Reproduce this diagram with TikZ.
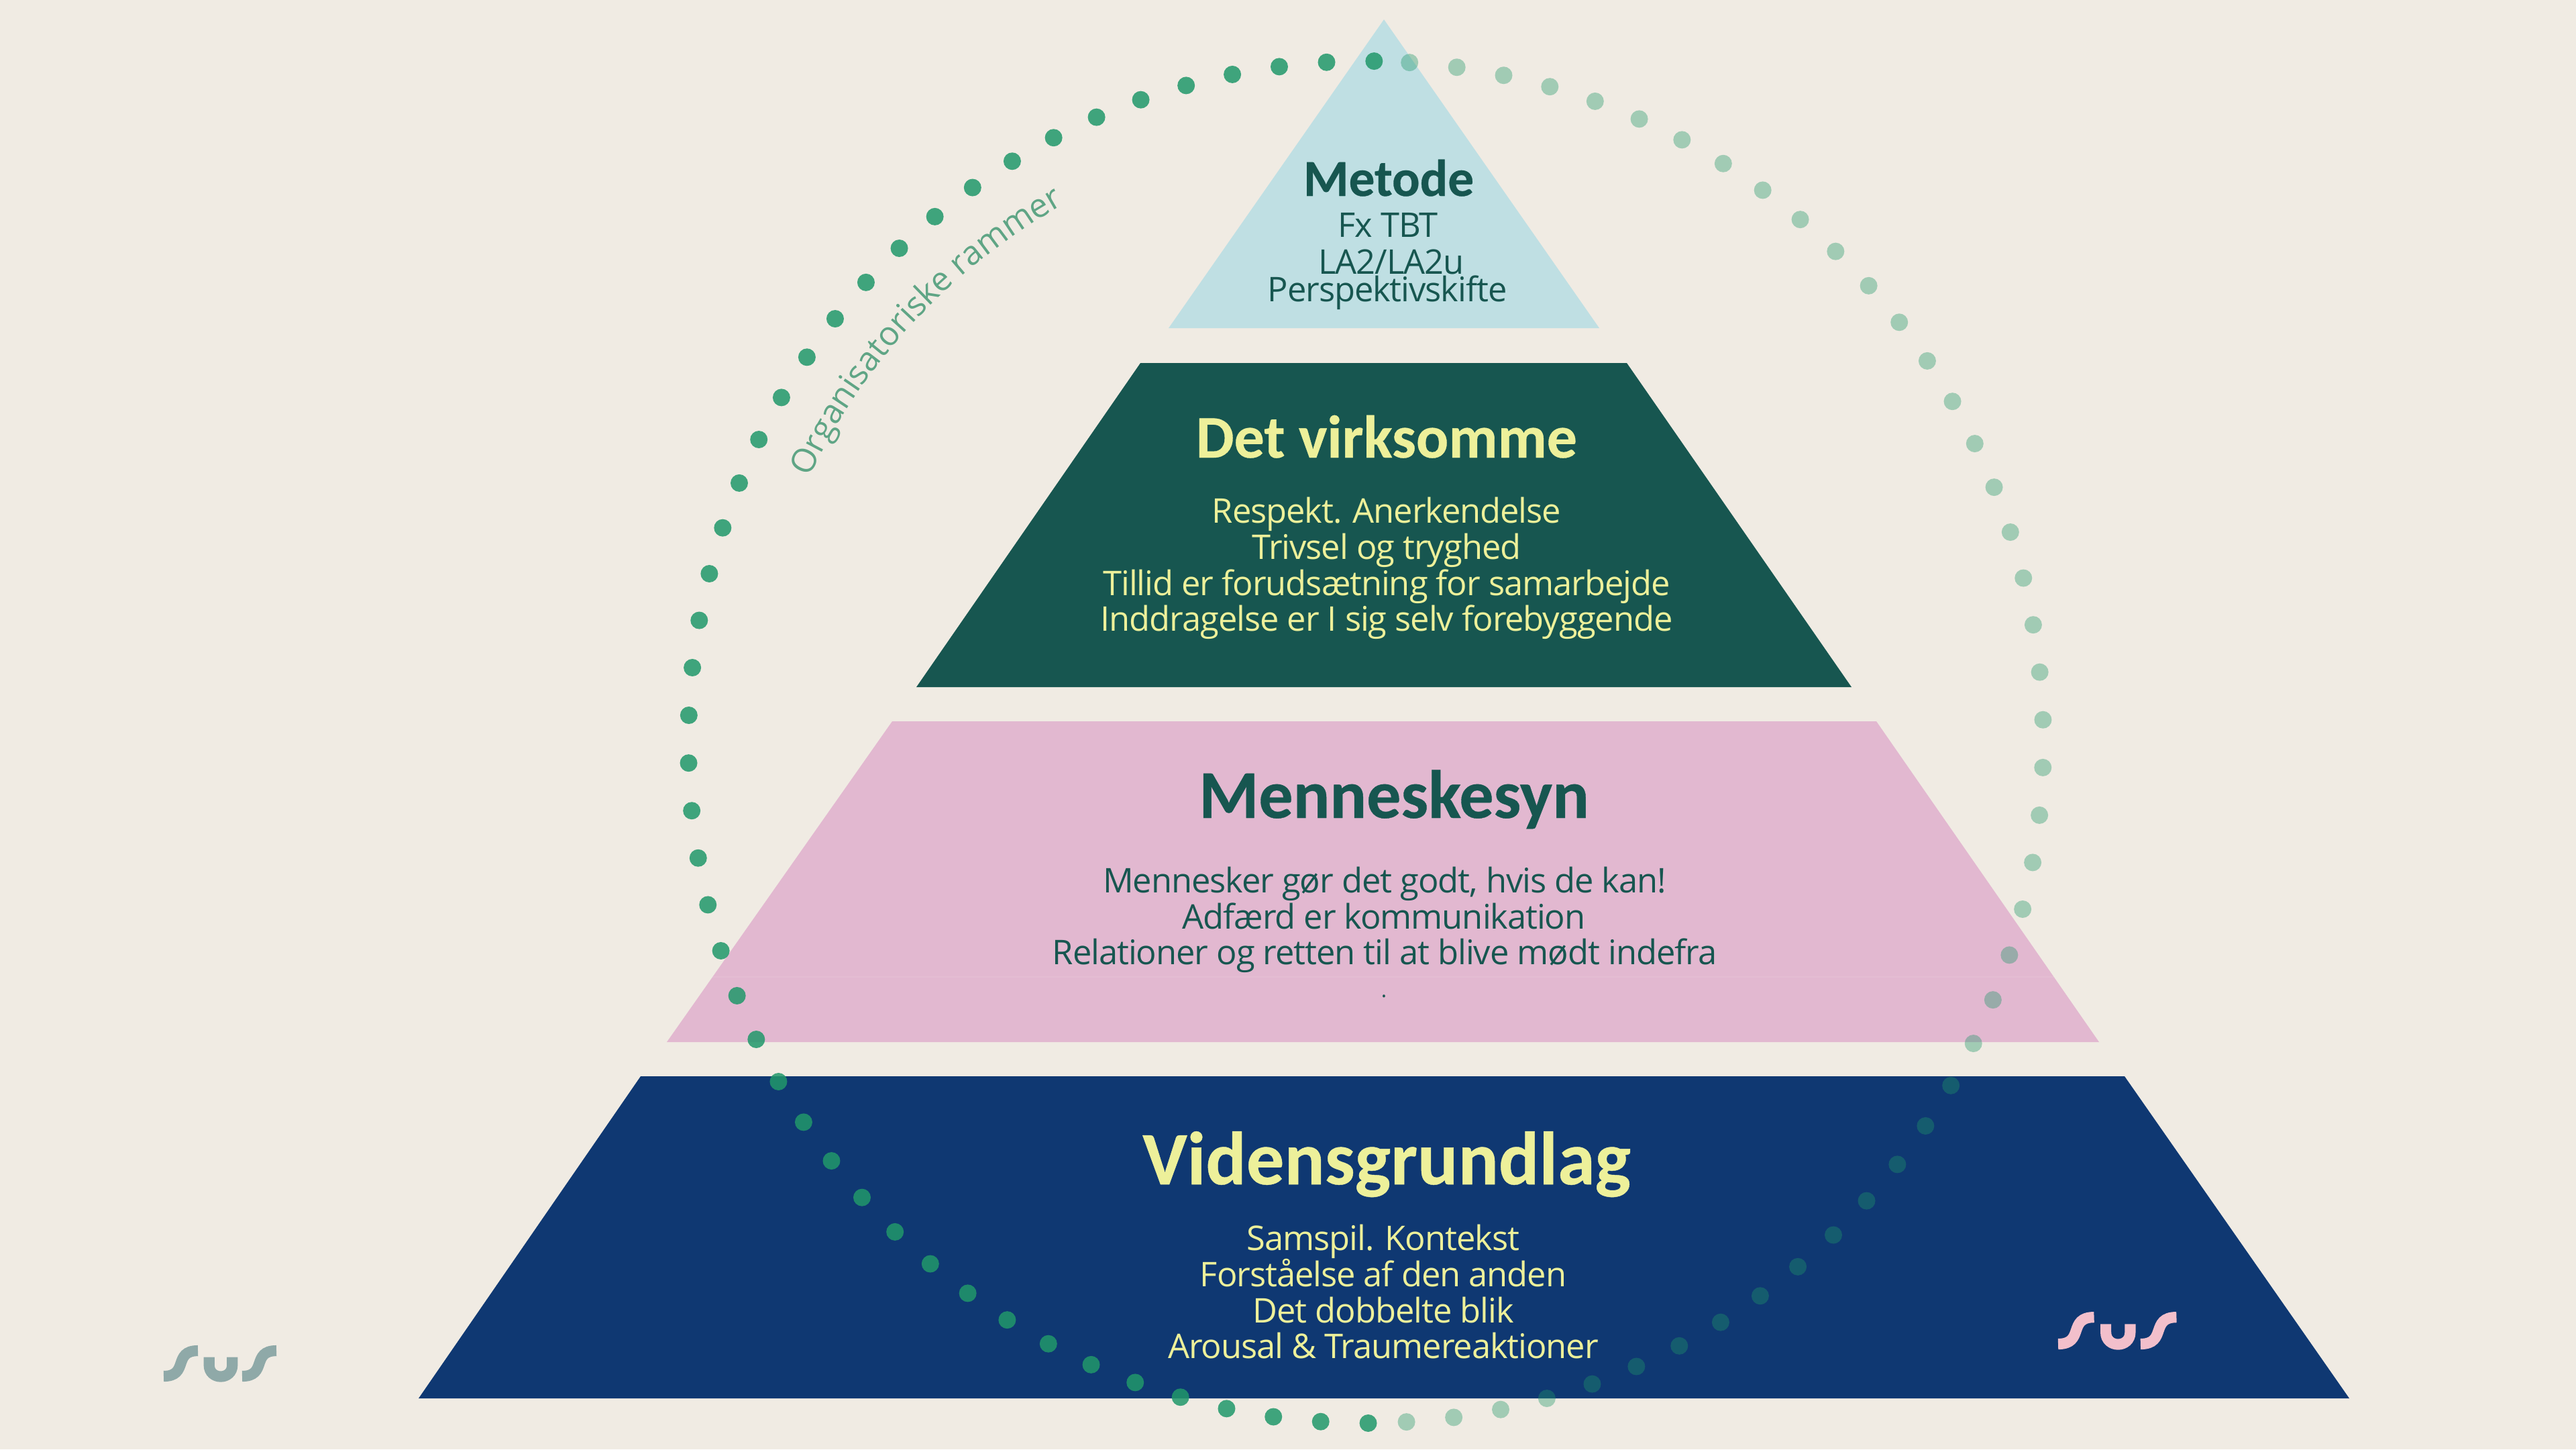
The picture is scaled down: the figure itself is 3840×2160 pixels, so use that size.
\documentclass[tikz,border=0pt]{standalone}
\usepackage{fontspec}
\usetikzlibrary{decorations.text}
\setmainfont{Open Sans}[LetterSpace=-2.1]
\newfontfamily\titlefont{Carlito}[BoldFont={Carlito Bold},BoldFeatures={FakeBold=0.4}]
\definecolor{bgc}{HTML}{F0EBE3}
\definecolor{topc}{HTML}{BFDFE3}
\definecolor{greenc}{HTML}{175650}
\definecolor{pinkc}{HTML}{E2B8D0}
\definecolor{bluec}{HTML}{0F3872}
\definecolor{yellowc}{HTML}{EDF09A}
\definecolor{dotc}{HTML}{21986A}
\definecolor{labelc}{HTML}{5FA585}
\definecolor{logoa}{HTML}{8FA9A8}
\definecolor{logob}{HTML}{F2BFCB}
\tikzset{
  x=0.01cm,y=-0.01cm,
  body/.style={inner sep=0,anchor=base,font=\fontsize{14.4}{15}\selectfont},
  head/.style={inner sep=0,anchor=base},
  ondark/.style={text=yellowc},
  onlight/.style={text=greenc},
  logostroke/.style={line width=4.6pt,line cap=butt}
}
\newcommand{\headfont}[1]{\fontsize{#1}{#1}\titlefont\bfseries}
\newcommand{\susmark}[1]{%
  \draw[logostroke,draw=#1] (0,0) .. controls (38,0) and (13,-38) .. (51,-38);
  \draw[logostroke,draw=#1] (67.7,-28.3) -- (67.7,-16.7) .. controls (67.7,6.3) and (102.3,6.3) .. (102.3,-16.7) -- (102.3,-28.3);
  \draw[logostroke,draw=#1] (117,0) .. controls (155,0) and (130,-38) .. (168,-38);
}
\begin{document}
\begin{tikzpicture}
\useasboundingbox[fill=bgc] (0,0) rectangle (3840,2160);
\fill[topc] (2063,29) -- (2384,489) -- (1742,489) -- cycle;
\fill[greenc] (1700,541) -- (2425,541) -- (2760,1024) -- (1366,1024) -- cycle;
\fill[pinkc] (1330,1075) -- (2797,1075) -- (3129,1553) -- (994,1553) -- cycle;
\fill[bluec] (955,1604) -- (3167,1604) -- (3502,2084) -- (624,2084) -- cycle;
\draw[line width=0.5pt,draw=white,opacity=0.08] (1062,1456) -- (3062,1456);
\foreach \a in {0,...,45} {
  \fill[dotc,opacity=0.85] ({2036+1010*cos(89.3+4.02*\a)},{1106-1015*sin(89.3+4.02*\a)}) circle (13);
}
\foreach \a in {0,...,43} {
  \fill[dotc,opacity=0.38] ({2036+1010*cos(86.3-4.02*\a)},{1106-1015*sin(86.3-4.02*\a)}) circle (13);
}
\path[decorate,decoration={text along path,text align=center,
  text={|\fontsize{14.1}{16}\selectfont\color{labelc}|Organisatoriske rammer}}]
  plot[domain=160:114,samples=50] ({2035+917*cos(\x)},{1104-917*sin(\x)});
\node[head,onlight,font=\headfont{22}] (n1) at (2070,292) {Metode};
\node[body,onlight] (n1a) at (2069,353) {Fx TBT};
\node[body,onlight] (n1b) at (2074,408) {LA2/LA2u};
\node[body,onlight] (n1c) at (2068,449) {Perspektivskifte};
\node[head,ondark,font=\headfont{25.6}] (n2) at (2067,682) {Det virksomme};
\node[body,ondark] (n2a) at (2067,779) {Respekt. Anerkendelse};
\node[body,ondark] (n2b) at (2067,833) {Trivsel og tryghed};
\node[body,ondark] (n2c) at (2067,887) {Tillid er forudsætning for samarbejde};
\node[body,ondark] (n2d) at (2067,940) {Inddragelse er I sig selv forebyggende};
\node[head,onlight,font=\headfont{29}] (n3) at (2078,1219) {Menneskesyn};
\node[body,onlight] (n3a) at (2064,1330) {Mennesker gør det godt, hvis de kan!};
\node[body,onlight] (n3b) at (2063,1384) {Adfærd er kommunikation};
\node[body,onlight] (n3c) at (2064,1437) {Relationer og retten til at blive mødt indefra};
\node[head,onlight,font=\fontsize{9}{9}\selectfont] (n3d) at (2063,1486) {.};
\node[head,ondark,font=\headfont{32}] (n4) at (2067,1765) {Vidensgrundlag};
\node[body,ondark] (n4a) at (2062,1863) {Samspil. Kontekst};
\node[body,ondark] (n4b) at (2062,1917) {Forståelse af den anden};
\node[body,ondark] (n4c) at (2062,1971) {Det dobbelte blik};
\node[body,ondark] (n4d) at (2062,2024) {Arousal \& Traumereaktioner};
\begin{scope}[shift={(244,2051)}]\susmark{logoa}\end{scope}
\begin{scope}[shift={(3068,2003)},scale=1.05]\susmark{logob}\end{scope}
\end{tikzpicture}
\end{document}
